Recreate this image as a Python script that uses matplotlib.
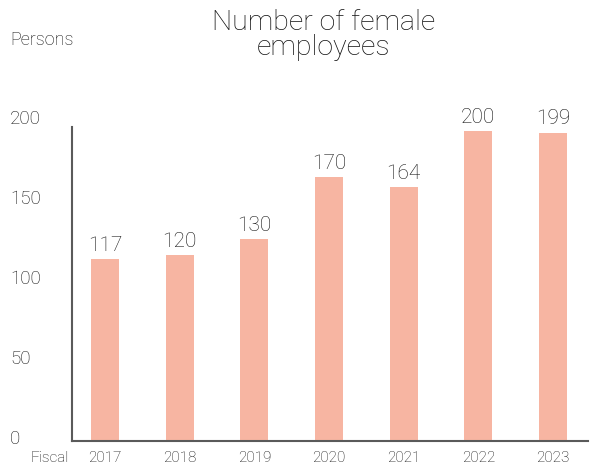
import matplotlib
matplotlib.use("Agg")
import matplotlib.pyplot as plt
from matplotlib.transforms import ScaledTranslation

years = ["2017", "2018", "2019", "2020", "2021", "2022", "2023"]
female_employees = [117, 120, 130, 170, 164, 200, 199]
y_tick_values = [0, 50, 100, 150, 200]

plt.rcParams["font.family"] = ["Roboto", "DejaVu Sans"]
plt.rcParams["font.weight"] = "light"

TEXT = "#111111"
BAR = "#F7B5A2"
AXIS = "#5a5a5a"

fig = plt.figure(figsize=(5.9, 4.66), dpi=100)
W, H = 590, 466
left, right, bottom_px, top_px = 72, 588, 440.5, 127
ax = fig.add_axes([left / W, (H - bottom_px) / H, (right - left) / W, (bottom_px - top_px) / H])

x = list(range(len(years)))
ax.bar(x, female_employees, width=0.375, color=BAR, zorder=2)
for xi, v in zip(x, female_employees):
    ax.annotate(str(v), (xi, v), xytext=(0, 3), textcoords="offset points",
                ha="center", va="bottom", fontsize=15, color=TEXT)

ax.set_xlim(-0.442, 6.469)
ax.set_ylim(0, 202.6)

for s in ["top", "right"]:
    ax.spines[s].set_visible(False)
for s in ["left", "bottom"]:
    ax.spines[s].set_color(AXIS)
    ax.spines[s].set_linewidth(1.5)

ax.set_xticks(x)
ax.set_xticklabels(years, fontsize=11, color=TEXT)
ax.tick_params(axis="x", length=0, pad=7.5)

ax.set_yticks(y_tick_values)
ax.set_yticklabels([str(v) for v in y_tick_values], fontsize=13.5, color=TEXT)
ax.tick_params(axis="y", length=0, pad=62 * 72 / 100)
for lbl, v in zip(ax.get_yticklabels(), y_tick_values):
    lbl.set_horizontalalignment("left")
    dy = (3.8 + 0.052 * v) / 100
    lbl.set_transform(lbl.get_transform() + ScaledTranslation(0, dy, fig.dpi_scale_trans))

fig.text(10 / W, 1 - 40 / H, "Persons", fontsize=13, color=TEXT, ha="left", va="center")
fig.text(30 / W, 1 - 458.5 / H, "Fiscal", fontsize=11, color=TEXT, ha="left", va="center")
fig.text(324 / W, 1 - 9 / H, "Number of female\nemployees", fontsize=20.5, color=TEXT,
         ha="center", va="top", linespacing=0.9)

fig.savefig("out.png", dpi=100)
